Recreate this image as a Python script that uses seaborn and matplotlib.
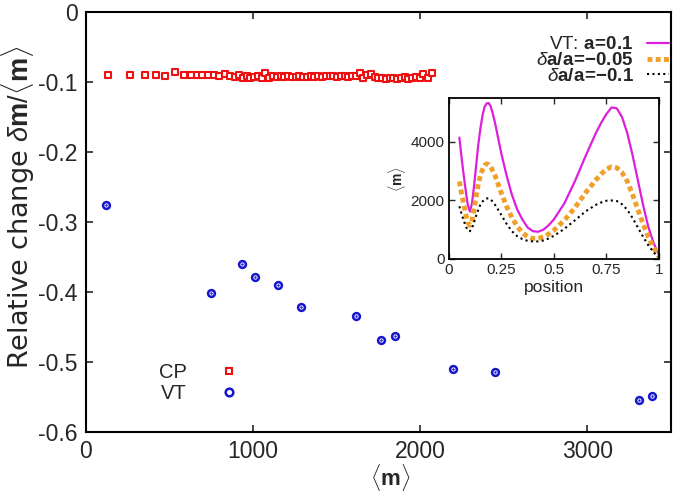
import numpy as np
import pandas as pd
import matplotlib
matplotlib.use("Agg")
import matplotlib.pyplot as plt
import seaborn as sns
from matplotlib.lines import Line2D

# main panel: CP (red squares) and VT (blue circles)
cp_m = [133, 266, 356, 421, 477, 535, 585, 631, 665, 698, 734, 768, 798, 834, 864,
        892, 915, 940, 962, 985, 1008, 1030, 1052, 1075, 1098, 1120, 1142, 1165,
        1188, 1210, 1232, 1255, 1278, 1300, 1322, 1345, 1368, 1390, 1412, 1435,
        1458, 1480, 1502, 1525, 1548, 1570, 1592, 1615, 1638, 1660, 1682, 1705,
        1728, 1750, 1772, 1795, 1818, 1840, 1862, 1885, 1908, 1930, 1952, 1975,
        1998, 2020, 2045, 2069]
cp_change = [-0.090, -0.090, -0.090, -0.090, -0.091, -0.086, -0.090, -0.090,
             -0.090, -0.090, -0.090, -0.090, -0.091, -0.088, -0.091, -0.093,
             -0.090, -0.094, -0.092, -0.095, -0.093, -0.091, -0.094, -0.087,
             -0.095, -0.092, -0.093, -0.092, -0.093, -0.092, -0.093, -0.093,
             -0.092, -0.093, -0.093, -0.092, -0.093, -0.092, -0.093, -0.092,
             -0.092, -0.092, -0.093, -0.092, -0.092, -0.093, -0.092, -0.091,
             -0.087, -0.095, -0.090, -0.088, -0.093, -0.094, -0.095, -0.096,
             -0.094, -0.095, -0.096, -0.095, -0.093, -0.096, -0.094, -0.093,
             -0.094, -0.089, -0.095, -0.087]
vt_m = [121, 750, 935, 1011, 1151, 1290, 1615, 1764, 1852, 2195, 2446, 3308, 3384]
vt_change = [-0.276, -0.401, -0.360, -0.379, -0.390, -0.421, -0.434, -0.469,
             -0.463, -0.510, -0.514, -0.554, -0.549]

# inset: <m> vs position
position = [0.05, 0.06, 0.07, 0.08, 0.09, 0.1, 0.11, 0.12, 0.13, 0.14, 0.15, 0.16,
            0.17, 0.18, 0.19, 0.2, 0.21, 0.22, 0.23, 0.24, 0.25, 0.275, 0.3, 0.325,
            0.35, 0.375, 0.4, 0.425, 0.45, 0.475, 0.5, 0.55, 0.6, 0.65, 0.7, 0.725,
            0.75, 0.775, 0.8, 0.825, 0.85, 0.875, 0.9, 0.925, 0.95, 0.975, 1.0]
m_a01 = [4150, 3500, 2900, 2350, 1850, 1620, 1900, 2500, 3200, 3900, 4450, 4900,
         5200, 5320, 5330, 5200, 4950, 4650, 4300, 3950, 3600, 2850, 2200, 1700,
         1350, 1080, 950, 930, 1000, 1150, 1350, 1900, 2650, 3500, 4300, 4650,
         4950, 5180, 5150, 4850, 4300, 3550, 2700, 1850, 1100, 550, 150]
m_da005 = [2650, 2250, 1900, 1550, 1250, 1150, 1300, 1700, 2150, 2550, 2850, 3050,
           3200, 3250, 3230, 3150, 3000, 2850, 2650, 2450, 2250, 1800, 1420, 1120,
           900, 760, 700, 700, 750, 850, 980, 1320, 1750, 2250, 2700, 2900,
           3070, 3150, 3120, 2950, 2650, 2200, 1700, 1200, 750, 380, 100]
m_da01 = [1800, 1550, 1330, 1130, 980, 950, 1050, 1250, 1480, 1680, 1850, 1960,
          2040, 2070, 2070, 2030, 1950, 1850, 1740, 1620, 1500, 1200, 950, 780,
          680, 620, 600, 600, 630, 700, 790, 1030, 1320, 1620, 1850, 1930,
          1990, 2000, 1980, 1870, 1680, 1400, 1080, 760, 470, 230, 50]
curve_labels = [r'VT: $\mathbf{a\!=\!0.1}$',
                r'$\delta\mathbf{a/a\!=\!{-}0.05}$',
                r'$\delta\mathbf{a/a\!=\!{-}0.1}$']

yticks = [0, -0.1, -0.2, -0.3, -0.4, -0.5, -0.6]
ytick_labels = ['0', '-0.1', '-0.2', '-0.3', '-0.4', '-0.5', '-0.6']
xticks = [0, 1000, 2000, 3000]
inset_xticks = [0, 0.25, 0.5, 0.75, 1]
inset_xlabels = ['0', '0.25', '0.5', '0.75', '1']
inset_yticks = [0, 2000, 4000]

sns.set_theme(style="ticks")
plt.rcParams['font.family'] = ['Liberation Sans', 'DejaVu Sans']
plt.rcParams['mathtext.fontset'] = 'custom'
plt.rcParams['mathtext.rm'] = 'Liberation Sans'
plt.rcParams['mathtext.it'] = 'Liberation Sans:italic'
plt.rcParams['mathtext.bf'] = 'Liberation Sans:bold'
plt.rcParams['axes.unicode_minus'] = False

fig = plt.figure(figsize=(6.75, 4.98), dpi=100)
ax = fig.add_axes([0.127, 0.1325, 0.867, 0.8435])

cp_df = pd.DataFrame({'m': cp_m, 'change': cp_change})
vt_df = pd.DataFrame({'m': vt_m, 'change': vt_change})
sns.scatterplot(data=cp_df, x='m', y='change', ax=ax, marker='s', s=16,
                facecolor='white', edgecolor='#ee1111', linewidth=1.5, zorder=3)
sns.scatterplot(data=vt_df, x='m', y='change', ax=ax, marker='o', s=24,
                facecolor='white', edgecolor='#1515d0', linewidth=1.8, zorder=3)
sns.scatterplot(data=vt_df, x='m', y='change', ax=ax, marker='o', s=3,
                color='#1515d0', linewidth=0, zorder=4)

ax.set_xlim(0, 3500)
ax.set_ylim(-0.6, 0)
ax.set_xticks(xticks)
ax.set_yticks(yticks)
ax.set_yticklabels(ytick_labels)
ax.tick_params(direction='in', length=5, width=1.2, labelsize=16.5,
               top=True, right=True, pad=6)
for sp in ax.spines.values():
    sp.set_linewidth(1.5)
    sp.set_color('black')
ax.set_xlabel(r'$\langle\mathbf{m}\rangle$', fontsize=16)
ax.xaxis.set_label_coords(0.52, -0.072)
ax.set_ylabel(r'Relative change $\delta\mathbf{m}/\langle\mathbf{m}\rangle$',
              fontsize=19.5, family=['DejaVu Sans'])
ax.yaxis.set_label_coords(-0.083, 0.535)

# CP / VT key
key_handles = [
    Line2D([], [], ls='none', marker='s', ms=5, mfc='white', mec='#ee1111', mew=1.5),
    Line2D([], [], ls='none', marker='o', ms=5.5, mfc='white', mec='#1515d0', mew=1.8),
]
key = ax.legend(key_handles, ['CP', 'VT'], loc='center right',
                bbox_to_anchor=(0.262, 0.117), frameon=False, markerfirst=False,
                fontsize=14.5, handlelength=1.0, handletextpad=1.6,
                labelspacing=0.1, borderpad=0, borderaxespad=0)
ax.add_artist(key)

# inset
ins = fig.add_axes([0.665, 0.48, 0.311, 0.323])
inset_df = pd.DataFrame({'position': position * 3,
                         'm': m_a01 + m_da005 + m_da01,
                         'curve': sum([[c] * len(position) for c in curve_labels], [])})
palette = {curve_labels[0]: '#dd1fdd', curve_labels[1]: '#f0a028',
           curve_labels[2]: 'black'}
sns.lineplot(data=inset_df, x='position', y='m', hue='curve', palette=palette,
             ax=ins, legend=False, sort=False)
line_styles = [('-', 1.6), ((0, (1, 0.7)), 3.5), ((0, (1, 1.6)), 1.5)]
for line, (ls, lw) in zip(ins.lines, line_styles):
    line.set_linestyle(ls)
    line.set_linewidth(lw)

ins.set_xlim(0, 1)
ins.set_ylim(0, 5500)
ins.set_xticks(inset_xticks)
ins.set_xticklabels(inset_xlabels)
ins.set_yticks(inset_yticks)
ins.tick_params(direction='in', length=4, width=1.0, labelsize=11,
                top=True, right=True, pad=3)
for sp in ins.spines.values():
    sp.set_linewidth(1.3)
    sp.set_color('black')
ins.set_xlabel('position', fontsize=12.5, labelpad=2)
ins.set_ylabel(r'$\langle\mathbf{m}\rangle$', fontsize=10, labelpad=2)

# curve key in main panel
curve_handles = [Line2D([], [], color=palette[c], ls=ls, lw=lw)
                 for c, (ls, lw) in zip(curve_labels, line_styles)]
ax.legend(curve_handles, curve_labels, loc='upper right',
          bbox_to_anchor=(0.997, 0.942), frameon=False, markerfirst=False,
          fontsize=13.5, handlelength=1.2, handletextpad=0.7,
          labelspacing=-0.08, borderpad=0, borderaxespad=0)

fig.savefig('out.png', dpi=100)
